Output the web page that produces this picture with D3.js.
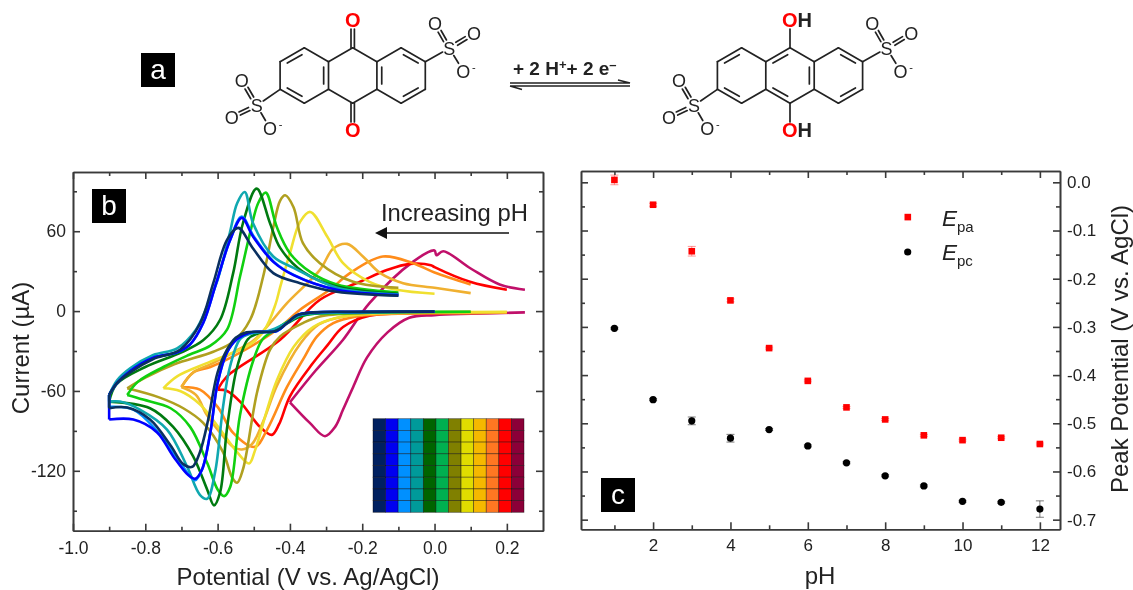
<!DOCTYPE html>
<html><head><meta charset="utf-8">
<script src="https://cdnjs.cloudflare.com/ajax/libs/d3/7.8.5/d3.min.js"></script>
<style>html,body{margin:0;padding:0;background:#fff}svg{display:block;filter:blur(0.45px)}text{font-family:"Liberation Sans",Arial,sans-serif;fill:#222}</style>
</head><body><svg id="c" width="1133" height="590"></svg>
<script>
// ---------- Panel b: cyclic voltammograms, [potential V, current uA] ----------
const cvPH1=[[0.25,-1],[0.1,-2],[0,-3],[-0.07,-5],[-0.13,-16],[-0.187,-35],[-0.225,-57],[-0.253,-74],[-0.275,-87],[-0.303,-94],[-0.345,-84],[-0.4,-68.5],[-0.33,-45],[-0.253,-21.5],[-0.18,6],[-0.06,37],[0,45.5],[0.005,42],[0.024,45],[0.1,32],[0.18,20],[0.25,16]];
const cvPH2=[[0.2,-1],[0,-1.5],[-0.18,-3.5],[-0.253,-12],[-0.297,-26],[-0.339,-40],[-0.4,-64],[-0.43,-85],[-0.45,-93],[-0.483,-87],[-0.538,-68],[-0.574,-60],[-0.6,-59],[-0.574,-49],[-0.427,-21.5],[-0.317,8.5],[-0.206,22],[-0.13,31],[-0.068,35.5],[-0.01,34.5],[0,33],[0.098,22],[0.2,16]];
const cvPH3=[[0.2,-1],[0.1,-1.5],[-0.1,-2],[-0.215,-4],[-0.28,-9],[-0.325,-19],[-0.364,-36.5],[-0.408,-57],[-0.463,-89],[-0.497,-102],[-0.557,-91.5],[-0.6,-72],[-0.649,-59],[-0.7,-57],[-0.667,-46],[-0.62,-42],[-0.557,-34],[-0.436,-14],[-0.372,1],[-0.29,16],[-0.234,28.5],[-0.143,41],[-0.06,36],[0,29],[0.1,20]];
const cvPH4=[[0.2,-1],[-0.1,-1.5],[-0.25,-4],[-0.32,-10],[-0.37,-24],[-0.436,-56],[-0.474,-83],[-0.505,-100],[-0.533,-104],[-0.557,-102],[-0.585,-94],[-0.63,-78],[-0.66,-63],[-0.7,-57],[-0.667,-46],[-0.62,-40],[-0.55,-30],[-0.5,-22],[-0.455,-9],[-0.408,6],[-0.317,31],[-0.28,47],[-0.242,50.5],[-0.198,41],[-0.15,28.5],[-0.087,21],[0,17.5],[0.1,13.5]];
const cvPH5=[[0.2,-0.5],[0,-1],[-0.15,-1.5],[-0.27,-5],[-0.336,-12],[-0.39,-27],[-0.436,-52],[-0.463,-74],[-0.497,-105],[-0.513,-114.5],[-0.546,-106],[-0.593,-89],[-0.649,-70],[-0.704,-60],[-0.75,-58],[-0.712,-49],[-0.62,-38],[-0.51,-25],[-0.47,-14],[-0.44,5],[-0.427,18],[-0.4,43.5],[-0.372,67],[-0.344,74.5],[-0.297,56],[-0.253,36],[-0.18,22],[-0.105,16],[0,13]];
const cvPH6=[[0.1,-0.5],[-0.1,-1],[-0.2,-1.5],[-0.317,-4],[-0.364,-9],[-0.427,-19],[-0.455,-29],[-0.49,-60],[-0.53,-119],[-0.546,-129],[-0.56,-125],[-0.585,-106],[-0.64,-84],[-0.695,-73],[-0.76,-65],[-0.85,-58],[-0.8,-50],[-0.72,-40],[-0.612,-30.5],[-0.557,-23],[-0.51,-6.5],[-0.474,26],[-0.446,63],[-0.427,83],[-0.413,87],[-0.39,78],[-0.364,51],[-0.317,36],[-0.225,22],[-0.1,17.5]];
const cvPH7=[[0.1,-0.5],[-0.1,-0.8],[-0.25,-1.5],[-0.35,-2.5],[-0.4,-7],[-0.44,-14],[-0.475,-21],[-0.5,-36],[-0.538,-78],[-0.565,-132],[-0.582,-139],[-0.6,-134],[-0.629,-114],[-0.676,-87],[-0.73,-73],[-0.806,-66.5],[-0.85,-63],[-0.82,-53],[-0.75,-42],[-0.68,-33],[-0.62,-26],[-0.574,-14],[-0.538,26],[-0.51,59],[-0.488,81],[-0.467,89],[-0.436,63],[-0.4,43.5],[-0.344,29.5],[-0.27,20],[-0.1,14]];
const cvPH8=[[0,-0.5],[-0.2,-0.8],[-0.36,-3],[-0.4,-8],[-0.44,-14],[-0.49,-17],[-0.516,-21],[-0.546,-42],[-0.574,-88],[-0.593,-136],[-0.61,-146],[-0.629,-134],[-0.668,-109],[-0.723,-87],[-0.787,-73],[-0.9,-68],[-0.88,-55],[-0.8,-42],[-0.7,-31],[-0.64,-22],[-0.593,-6.5],[-0.557,28.5],[-0.53,66],[-0.492,92],[-0.455,66],[-0.427,47.5],[-0.364,29.5],[-0.27,18.5],[-0.1,13]];
const cvPH9=[[0,-0.5],[-0.2,-0.8],[-0.37,-3],[-0.41,-9],[-0.46,-15],[-0.51,-17],[-0.538,-21],[-0.566,-42],[-0.585,-72],[-0.607,-121],[-0.629,-141],[-0.649,-138],[-0.685,-116.5],[-0.74,-89],[-0.815,-74],[-0.87,-68],[-0.9,-68],[-0.9,-63],[-0.878,-52],[-0.842,-43],[-0.778,-33],[-0.712,-28],[-0.66,-14],[-0.63,3],[-0.6,23.5],[-0.566,59],[-0.546,81],[-0.525,89.5],[-0.502,66],[-0.446,41],[-0.39,32.5],[-0.27,17.5],[-0.1,12.5]];
const cvPH10=[[0,-0.5],[-0.2,-0.7],[-0.336,-1],[-0.38,-3],[-0.408,-9],[-0.436,-15],[-0.51,-16],[-0.546,-21],[-0.574,-31],[-0.6,-54],[-0.62,-91],[-0.643,-119],[-0.662,-127],[-0.682,-122],[-0.723,-106],[-0.768,-90],[-0.833,-74],[-0.9,-72],[-0.9,-63],[-0.878,-54],[-0.842,-45],[-0.778,-35],[-0.712,-31],[-0.676,-25],[-0.64,-9],[-0.604,21],[-0.566,53],[-0.533,71],[-0.5,56],[-0.444,37],[-0.388,27],[-0.27,16],[-0.1,12]];
const cvPH11=[[0,-0.5],[-0.2,-0.6],[-0.336,-1],[-0.38,-3],[-0.408,-9],[-0.436,-15],[-0.51,-16],[-0.546,-21],[-0.574,-31],[-0.6,-54],[-0.62,-91],[-0.643,-119],[-0.662,-126],[-0.682,-123],[-0.723,-109],[-0.768,-91],[-0.833,-81.5],[-0.9,-81.5],[-0.9,-63],[-0.878,-54],[-0.842,-45],[-0.778,-35],[-0.712,-31],[-0.676,-25],[-0.64,-9],[-0.604,21],[-0.566,53],[-0.533,70],[-0.502,56],[-0.446,37],[-0.39,27],[-0.27,16],[-0.1,12]];
const cvPH12=[[0,-0.3],[-0.2,-0.5],[-0.336,-1],[-0.38,-3],[-0.408,-9],[-0.44,-15],[-0.52,-16],[-0.55,-20],[-0.574,-29],[-0.6,-46],[-0.626,-81.5],[-0.649,-106],[-0.67,-117],[-0.695,-115],[-0.73,-101],[-0.787,-81.5],[-0.85,-72.5],[-0.9,-73],[-0.9,-63],[-0.878,-54],[-0.842,-46],[-0.778,-36],[-0.704,-29],[-0.648,-9],[-0.612,21],[-0.574,53.5],[-0.543,62.5],[-0.502,47],[-0.446,28.5],[-0.372,21],[-0.27,14.5],[-0.1,11.5]];
const cvSeries=[cvPH1,cvPH2,cvPH3,cvPH4,cvPH5,cvPH6,cvPH7,cvPH8,cvPH9,cvPH10,cvPH11,cvPH12];
const cvColors=["#c0106a","#ff0000","#ff8c1a","#f0b030","#f0e030","#b0a020","#10d010","#007a10","#10a8b0","#0090ff","#0000ff","#0a3060"];
const swatchColors=["#002060","#0000f0","#0090ff","#009a9a","#006400","#00b050","#808000","#e0dc00","#f5b800","#ff7722","#ff0000","#8b0038"];
const bXTicks=[-1.0,-0.8,-0.6,-0.4,-0.2,0.0,0.2];
const bYTicks=[60,0,-60,-120];
// ---------- Panel c: peak potentials ----------
const pHValues=[1,2,3,4,5,6,7,8,9,10,11,12];
const Epa=[0.005,-0.0465,-0.143,-0.245,-0.344,-0.412,-0.467,-0.492,-0.525,-0.535,-0.53,-0.543];
const EpaErr=[0.01,0.003,0.01,0.003,0.002,0.002,0.002,0.002,0.002,0.002,0.002,0.002];
const Epc=[-0.303,-0.451,-0.495,-0.531,-0.513,-0.547,-0.582,-0.609,-0.63,-0.662,-0.664,-0.678];
const EpcErr=[0.002,0.002,0.008,0.008,0.002,0.002,0.002,0.002,0.002,0.002,0.002,0.017];
const cXTicks=[2,4,6,8,10,12];
const cYTicks=[0,-0.1,-0.2,-0.3,-0.4,-0.5,-0.6,-0.7];

const svg=d3.select("#c");
const AX="#3a3a3a";
const hy=f=>v=>f(v).replace("\u2212","-");

function frame(x,y,xMajor,xMinor,yMajor,yMinor,xFmt,yFmt,yLabelRight,fs,xLabY){
  const [l,r]=x.range(),[b,t]=y.range();
  const g=svg.append("g");
  const addAxis=(gen,tx,ty)=>{const a=g.append("g").attr("transform",`translate(${tx},${ty})`).call(gen);
    a.selectAll("path,line").attr("stroke",AX).attr("stroke-width",1.6);return a;};
  addAxis(d3.axisBottom(x).tickValues(xMinor).tickSize(-4).tickFormat("").tickSizeOuter(0),0,b);
  const B=addAxis(d3.axisBottom(x).tickValues(xMajor).tickSize(-7).tickSizeOuter(0).tickFormat(xFmt),0,b);
  B.selectAll("text").attr("font-size",fs).attr("font-family","Liberation Sans").attr("fill","#222").attr("y",xLabY);
  addAxis(d3.axisTop(x).tickValues(xMinor).tickSize(-4).tickSizeOuter(0).tickFormat(""),0,t);
  addAxis(d3.axisTop(x).tickValues(xMajor).tickSize(-7).tickSizeOuter(0).tickFormat(""),0,t);
  const lMaj=d3.axisLeft(y).tickValues(yMajor).tickSize(-7).tickSizeOuter(0).tickFormat(yLabelRight?"":yFmt);
  const lMin=d3.axisLeft(y).tickValues(yMinor).tickSize(-4).tickSizeOuter(0).tickFormat("");
  const rMaj=d3.axisRight(y).tickValues(yMajor).tickSize(-7).tickSizeOuter(0).tickFormat(yLabelRight?yFmt:"");
  const rMin=d3.axisRight(y).tickValues(yMinor).tickSize(-4).tickSizeOuter(0).tickFormat("");
  addAxis(lMin,l,0);const L=addAxis(lMaj,l,0);addAxis(rMin,r,0);const R=addAxis(rMaj,r,0);
  L.selectAll("text").attr("font-size",fs).attr("font-family","Liberation Sans").attr("fill","#222").attr("x",-7);
  R.selectAll("text").attr("font-size",fs).attr("font-family","Liberation Sans").attr("fill","#222").attr("x",7);
}
function badge(x,y,s,t){
  svg.append("rect").attr("x",x).attr("y",y).attr("width",s).attr("height",s).attr("fill","#000");
  svg.append("text").attr("x",x+s/2).attr("y",y+s/2+9).attr("text-anchor","middle").attr("font-size",28).style("fill","#fff").text(t);
}

// ---------- Panel b ----------
const bx=d3.scaleLinear().domain([-1,0.3]).range([73,543]);
const by=d3.scaleLinear().domain([-165,104.5]).range([530.7,172]);
const line=d3.line().x(d=>bx(d[0])).y(d=>by(d[1])).curve(d3.curveCatmullRom.alpha(0.5));
// break each sweep at its switching potential so the turning point stays sharp
const sweepPath=pts=>{
  const vMin=d3.min(pts,d=>d[0]);
  let out="",start=0;
  pts.forEach((p,i)=>{if(p[0]===vMin){out+=line(pts.slice(start,i+1));start=i;}});
  return out+line(pts.slice(start));
};
svg.append("g").attr("fill","none").attr("stroke-width",2.6).attr("stroke-linejoin","round")
  .selectAll("path").data(cvSeries).join("path").attr("d",sweepPath).attr("stroke",(d,i)=>cvColors[i]);
frame(bx,by,bXTicks,d3.range(-0.9,0.3,0.2),bYTicks,[90,30,-30,-90,-150],hy(d3.format(".1f")),hy(d3.format("d")),false,17.5,11);
badge(92,189,34,"b");
svg.append("text").attr("x",381).attr("y",221).attr("font-size",23.8).text("Increasing pH");
svg.append("line").attr("x1",509).attr("x2",385).attr("y1",233).attr("y2",233).attr("stroke","#111").attr("stroke-width",1.6);
svg.append("path").attr("d","M375,233L387,227L387,239Z").attr("fill","#111");
svg.append("text").attr("x",308).attr("y",585).attr("text-anchor","middle").attr("font-size",24).text("Potential (V vs. Ag/AgCl)");
svg.append("text").attr("transform","translate(29,348) rotate(-90)").attr("text-anchor","middle").attr("font-size",24).text("Current (µA)");
// colour swatch
const sx=d3.scaleBand().domain(d3.range(12)).range([373,524]);
const sy=d3.scaleBand().domain(d3.range(8)).range([418.7,512.3]);
const sg=svg.append("g");
swatchColors.forEach((c,i)=>sg.selectAll(null).data(d3.range(8)).join("rect")
  .attr("x",sx(i)).attr("y",d=>sy(d)).attr("width",sx.bandwidth()).attr("height",sy.bandwidth())
  .attr("fill",c).attr("stroke","rgba(0,0,0,0.55)").attr("stroke-width",0.7));

// ---------- Panel c ----------
const cx=d3.scaleLinear().domain([0.136,12.52]).range([581,1060]);
const cy=d3.scaleLinear().domain([-0.72,0.0235]).range([529.3,171]);
function errs(vals,errv,col){
  svg.append("g").selectAll("path").data(vals).join("path")
    .attr("d",(v,i)=>{const X=cx(pHValues[i]),a=cy(v+errv[i]),b=cy(v-errv[i]);return `M${X-4},${a}H${X+4}M${X},${a}V${b}M${X-4},${b}H${X+4}`;})
    .attr("stroke",col).attr("stroke-width",1).attr("fill","none").attr("opacity",0.6);
}
errs(Epa,EpaErr,"#ff5050");errs(Epc,EpcErr,"#222");
svg.append("g").selectAll("rect").data(Epa).join("rect")
  .attr("x",(v,i)=>cx(pHValues[i])-3.3).attr("y",v=>cy(v)-3.3).attr("width",6.6).attr("height",6.6).attr("fill","#ff0000");
svg.append("g").selectAll("circle").data(Epc).join("circle")
  .attr("cx",(v,i)=>cx(pHValues[i])).attr("cy",v=>cy(v)).attr("r",3.6).attr("fill","#000");
frame(cx,cy,cXTicks,[1,3,5,7,9,11],cYTicks,[-0.05,-0.15,-0.25,-0.35,-0.45,-0.55,-0.65],d3.format("d"),hy(d3.format(".1f")),true,17,10);
badge(601,478,34,"c");
svg.append("rect").attr("x",904.5).attr("y",213.8).attr("width",6.6).attr("height",6.6).attr("fill","#ff0000");
svg.append("circle").attr("cx",907.7).attr("cy",252).attr("r",3.6).attr("fill","#000");
const lg=(y,sub)=>{const t=svg.append("text").attr("x",942).attr("y",y).attr("font-size",22.5);
  t.append("tspan").attr("font-style","italic").text("E");
  t.append("tspan").attr("font-size",15).attr("dy",5.5).text(sub);};
lg(226,"pa");lg(260,"pc");
svg.append("text").attr("x",820).attr("y",584).attr("text-anchor","middle").attr("font-size",24).text("pH");
svg.append("text").attr("transform","translate(1128,349) rotate(-90)").attr("text-anchor","middle").attr("font-size",24).text("Peak Potential (V vs. AgCl)");

// ---------- Panel a: reaction scheme ----------
badge(141,53,34,"a");
const BX=24.2,BY=13.85;
function molecule(ox,reduced){
  const cyc=75.5;
  const P=(i,j)=>[ox+i*BX,cyc+j*BY];
  const g=svg.append("g").attr("stroke","#222").attr("stroke-width",1.7).attr("fill","none").attr("stroke-linecap","round");
  const seg=(a,b)=>g.append("line").attr("x1",a[0]).attr("y1",a[1]).attr("x2",b[0]).attr("y2",b[1]);
  const bonds=[[[0,-2],[-1,-1]],[[-1,-1],[-1,1]],[[-1,1],[0,2]],[[0,2],[1,1]],[[1,1],[1,-1]],[[1,-1],[0,-2]],
    [[-1,-1],[-2,-2]],[[-2,-2],[-3,-1]],[[-3,-1],[-3,1]],[[-3,1],[-2,2]],[[-2,2],[-1,1]],
    [[1,-1],[2,-2]],[[2,-2],[3,-1]],[[3,-1],[3,1]],[[3,1],[2,2]],[[2,2],[1,1]]];
  bonds.forEach(b=>seg(P(...b[0]),P(...b[1])));
  const inner=(a,b,c)=>{const A=P(...a),B=P(...b),C=[ox+c[0]*BX,cyc+c[1]*BY],k=0.2;
    const f=p=>[p[0]+(C[0]-p[0])*k,p[1]+(C[1]-p[1])*k];
    const A2=f(A),B2=f(B),s=0.12;
    seg([A2[0]+(B2[0]-A2[0])*s,A2[1]+(B2[1]-A2[1])*s],[B2[0]+(A2[0]-B2[0])*s,B2[1]+(A2[1]-B2[1])*s]);};
  inner([-2,-2],[-3,-1],[-2,0]);inner([-3,1],[-2,2],[-2,0]);inner([2,-2],[3,-1],[2,0]);inner([3,1],[2,2],[2,0]);
  if(reduced){inner([-1,-1],[0,-2],[0,0]);inner([-1,1],[0,2],[0,0]);inner([1,-1],[1,1],[0,0]);
    seg(P(0,-2),[ox,29]);seg(P(0,2),[ox,122]);
  }else{inner([-1,-1],[-1,1],[-2,0]);inner([1,-1],[1,1],[2,0]);
    [-1.7,1.7].forEach(d=>{seg([ox+d,48],[ox+d,29]);seg([ox+d,103],[ox+d,122]);});
  }
  const txt=(x,y,t,o={})=>svg.append("text").attr("x",x).attr("y",y).attr("text-anchor","middle").attr("font-size",o.fs||18).attr("font-weight",o.w||"normal").style("fill",o.c||"#222").text(t);
  const dbl=(a,b)=>{const dx=b[0]-a[0],dy=b[1]-a[1],L=Math.hypot(dx,dy),nx=-dy/L*1.7,ny=dx/L*1.7;
    [1,-1].forEach(q=>seg([a[0]+dx*0.3+nx*q,a[1]+dy*0.3+ny*q],[a[0]+dx*0.68+nx*q,a[1]+dy*0.68+ny*q]));};
  const sgl=(a,b)=>{const dx=b[0]-a[0],dy=b[1]-a[1];seg([a[0]+dx*0.32,a[1]+dy*0.32],[a[0]+dx*0.66,a[1]+dy*0.66]);};
  const sulfo=(from,S,O1,O2,Om)=>{
    const dx=S[0]-from[0],dy=S[1]-from[1];seg(from,[from[0]+dx*0.72,from[1]+dy*0.72]);
    txt(S[0],S[1]+6.5,"S");dbl(S,O1);dbl(S,O2);sgl(S,Om);
    txt(O1[0],O1[1]+6.5,"O");txt(O2[0],O2[1]+6.5,"O");txt(Om[0],Om[1]+6.5,"O");
    txt(Om[0]+10.5,Om[1]-0.5,"-",{fs:11});
  };
  sulfo(P(-3,1),[ox-96,105.5],[ox-111,80],[ox-121,117.3],[ox-82.7,128.3]);
  sulfo(P(3,-1),[ox+96.6,48.3],[ox+82.3,23.3],[ox+121.3,33.3],[ox+110.6,71]);
  const oLabel=(y)=>{if(reduced){const t=svg.append("text").attr("x",ox-8).attr("y",y).attr("font-size",20).attr("font-weight","bold");
      t.append("tspan").style("fill","#ff0000").text("O");t.append("tspan").text("H");
    }else txt(ox,y,"O",{fs:20,w:"bold",c:"#ff0000"});};
  oLabel(26.5);oLabel(137);
}
molecule(352.7,false);
molecule(790,true);
const rx=svg.append("text").attr("x",513).attr("y",75).attr("font-size",19).attr("font-weight","bold");
rx.append("tspan").text("+ 2 H");rx.append("tspan").attr("dy",-6).attr("font-size",13).text("+");
rx.append("tspan").attr("dy",6).text("+ 2 e");rx.append("tspan").attr("dy",-6).attr("font-size",13).text("–");
svg.append("path").attr("d","M510,83H630L618,80M510,86H630M510,86L522,89.5").attr("fill","none").attr("stroke","#222").attr("stroke-width",1.5);
</script></body></html>
